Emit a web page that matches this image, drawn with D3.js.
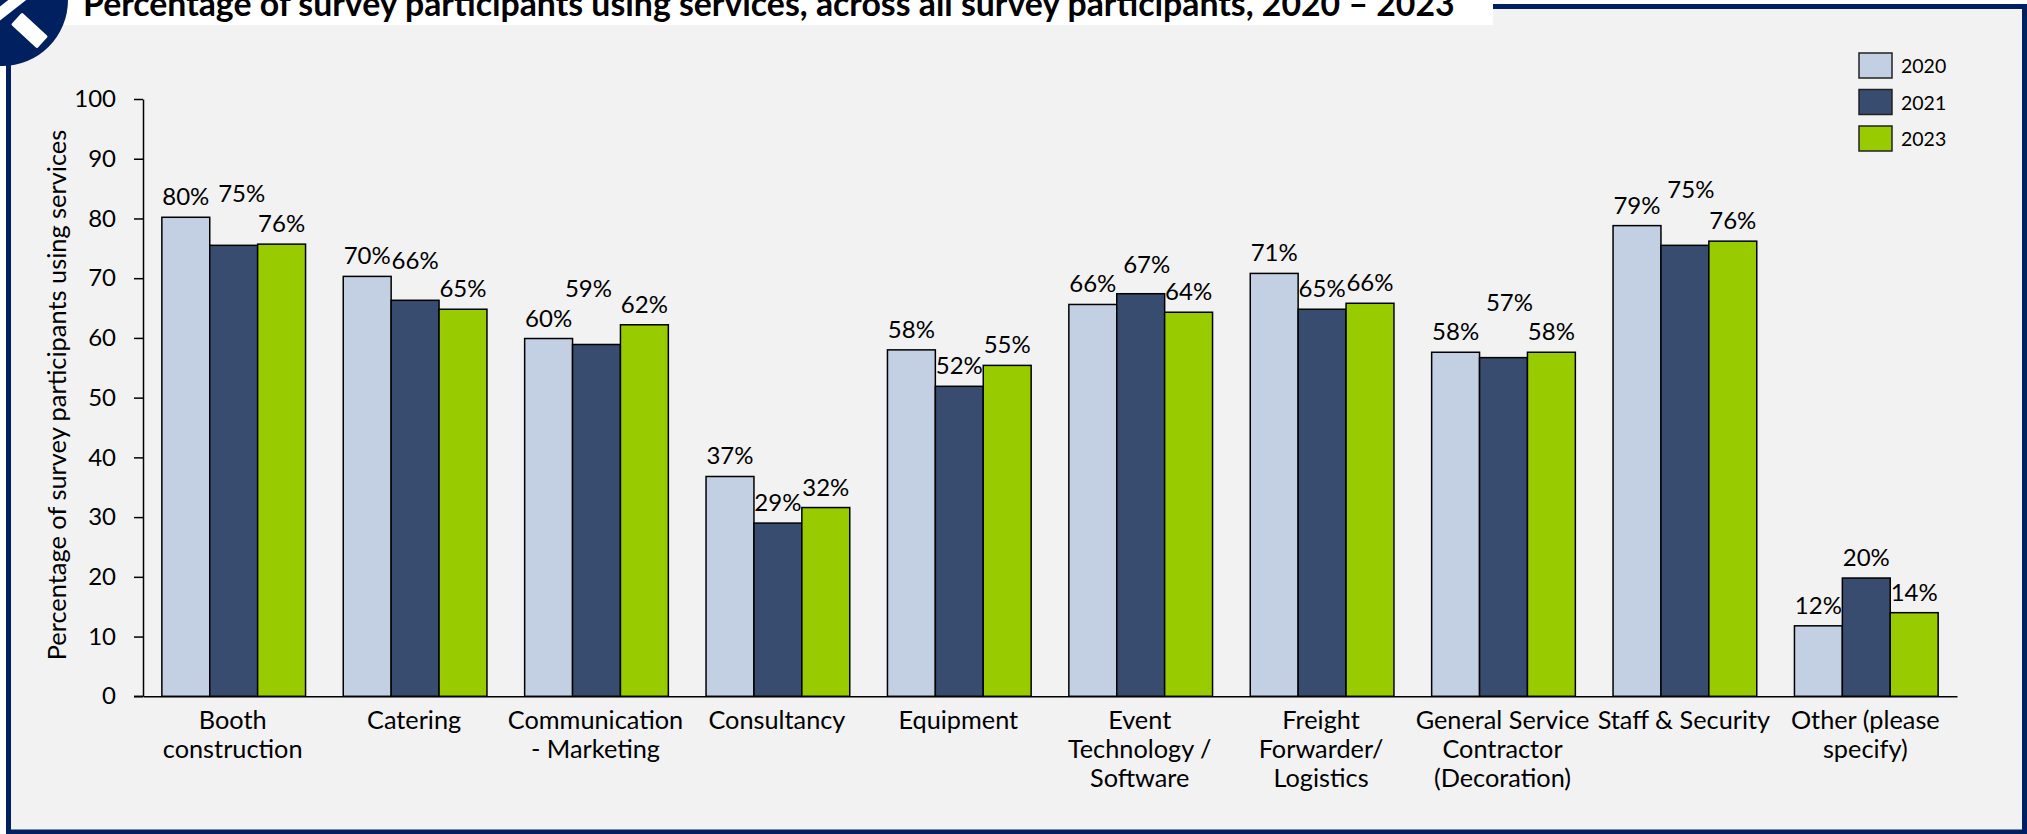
<!DOCTYPE html>
<html><head><meta charset="utf-8">
<script src="https://cdn.jsdelivr.net/npm/d3@7/dist/d3.min.js"></script>
<style>
html,body{margin:0;padding:0;background:#fff;overflow:hidden}
text{font-family:Lato,"Open Sans",sans-serif;fill:#000}
</style></head><body><svg id="c" width="2027" height="834"></svg>
<script>
const titleText = "Percentage of survey participants using services, across all survey participants, 2020 – 2023";
const yTitle = "Percentage of survey participants using services";
const categories = [["Booth","construction"],["Catering"],["Communication","- Marketing"],["Consultancy"],["Equipment"],["Event","Technology /","Software"],["Freight","Forwarder/","Logistics"],["General Service","Contractor","(Decoration)"],["Staff & Security"],["Other (please","specify)"]];
const seriesNames = ["2020","2021","2023"];
const values2020 = [80.2,70.3,59.9,36.8,58.0,65.6,70.8,57.6,78.8,11.8];
const values2021 = [75.5,66.3,58.9,29.0,51.9,67.4,64.8,56.7,75.5,19.8];
const values2023 = [75.7,64.8,62.2,31.6,55.4,64.3,65.8,57.6,76.2,14.0];
const labels2020 = ["80%","70%","60%","37%","58%","66%","71%","58%","79%","12%"];
const labels2021 = ["75%","66%","59%","29%","52%","67%","65%","57%","75%","20%"];
const labels2023 = ["76%","65%","62%","32%","55%","64%","66%","58%","76%","14%"];
const yTicks = [0,10,20,30,40,50,60,70,80,90,100];
const colors = ["#c3cfe2","#374c6e","#99cc00"];
const seriesValues = [values2020,values2021,values2023];
const seriesLabels = [labels2020,labels2021,labels2023];
// manual label nudges of the 2021 series [dx, lift], as placed in the source chart
const nudges2021 = {0:[8,31],1:[0,19],2:[-8,35],5:[6,9],7:[6,35],8:[6,35]};

const svg = d3.select("#c");
const navy = "#002060";
svg.append("rect").attr("x",8.5).attr("y",6.5).attr("width",2016).attr("height",825.5)
  .attr("fill","#f2f2f2").attr("stroke",navy).attr("stroke-width",5);
// title block
svg.append("rect").attr("x",0).attr("y",0).attr("width",1493).attr("height",25).attr("fill","#fff");
svg.append("circle").attr("cx",2).attr("cy",0).attr("r",66).attr("fill",navy);
svg.append("rect").attr("x",-17.7).attr("y",-8.2).attr("width",35.4).attr("height",16.4).attr("rx",1.5).attr("fill","#fff")
  .attr("transform","translate(29.5,30.5) rotate(42.7)");
svg.append("rect").attr("x",-30).attr("y",-5.5).attr("width",60).attr("height",11).attr("fill","#fff")
  .attr("transform","translate(7,8) rotate(-38)");
svg.append("text").attr("x",83).attr("y",16).attr("font-size",33.8).attr("font-weight",700)
  .text(titleText);

const x = d3.scaleBand().domain(d3.range(categories.length)).range([143,1957]);
const y = d3.scaleLinear().domain([0,100]).range([696.3,99]);
const barW = 47.9;
const sub = d3.scaleBand().domain(d3.range(3)).range([0,barW*3]);
const pad = (x.bandwidth()-barW*3)/2;

// axes
const ya = svg.append("g").attr("transform","translate(143,0)")
  .call(d3.axisLeft(y).tickValues(yTicks).tickSize(9).tickPadding(18).tickSizeOuter(0));
ya.selectAll("text").attr("font-size",24).style("font-family","Lato");
ya.selectAll("line,path").attr("stroke","#000").attr("stroke-width",1.5);

seriesValues.forEach((vals,s)=>{
  svg.append("g").selectAll("rect").data(vals).join("rect")
    .attr("x",(d,i)=>x(i)+pad+sub(s))
    .attr("y",d=>y(d))
    .attr("width",barW)
    .attr("height",d=>y(0)-y(d))
    .attr("fill",colors[s]).attr("stroke","#000").attr("stroke-width",1.5);
});
const xa = svg.append("g").attr("transform",`translate(0,${y(0)})`)
  .call(d3.axisBottom(x).tickSize(0).tickFormat(""));
xa.selectAll("line,path").attr("stroke","#000").attr("stroke-width",1.5);
svg.append("line").attr("x1",134).attr("x2",143).attr("y1",y(0)).attr("y2",y(0)).attr("stroke","#000").attr("stroke-width",1.5);

// data labels
seriesLabels.forEach((labs,s)=>{
  svg.append("g").selectAll("text").data(labs).join("text")
    .attr("x",(d,i)=>x(i)+pad+sub(s)+barW/2+(s===1&&nudges2021[i]?nudges2021[i][0]:0))
    .attr("y",(d,i)=>y(seriesValues[s][i])-12-(s===1&&nudges2021[i]?nudges2021[i][1]:0))
    .attr("text-anchor","middle").attr("font-size",24).text(d=>d);
});

// category labels
const cat = svg.append("g").selectAll("text").data(categories).join("text")
  .attr("text-anchor","middle").attr("font-size",25.3);
cat.each(function(lines,i){
  d3.select(this).selectAll("tspan").data(lines).join("tspan")
    .attr("x",x(i)+x.bandwidth()/2-1).attr("y",(d,k)=>729+k*29).text(d=>d);
});

// y title
svg.append("text").attr("transform","translate(66,395) rotate(-90)")
  .attr("text-anchor","middle").attr("font-size",25.4).text(yTitle);

// legend
const lg = svg.append("g").selectAll("g").data(seriesNames).join("g")
  .attr("transform",(d,i)=>`translate(1859,${53+i*36.5})`);
lg.append("rect").attr("width",33).attr("height",25).attr("fill",(d,i)=>colors[i]).attr("stroke","#222").attr("stroke-width",1.5);
lg.append("text").attr("x",42).attr("y",20).attr("font-size",19.5).text(d=>d);
</script></body></html>
